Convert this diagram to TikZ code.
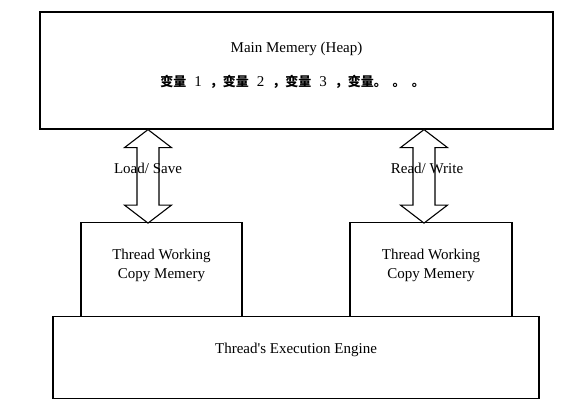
\documentclass[tikz,border=0pt]{standalone}
\usepackage{fontspec}
\setmainfont{Liberation Serif}
\newfontfamily\cjk{Noto Sans CJK SC}
\usepackage{tikz}
\usetikzlibrary{positioning}

\newcommand{\bl}[1]{{\cjk\bfseries\fontsize{13}{15}\selectfont #1}}

\tikzset{
  membox/.style={draw, line width=1.2pt, inner sep=0pt},
  memtext/.style={align=center, inner sep=0pt, font=\fontsize{15}{19}\selectfont},
  bigarrow/.pic={
    \draw[line width=1.1pt, fill=white] (0,0) -- (23.5,18) -- (11,18) -- (11,75.5) -- (23.5,75.5)
      -- (0,93.5) -- (-23.5,75.5) -- (-11,75.5) -- (-11,18) -- (-23.5,18) -- cycle;
  }
}

\begin{document}
\begin{tikzpicture}[x=1pt, y=-1pt]
  \useasboundingbox (0,0) rectangle (580,416);

  % boxes
  \node[membox, minimum width=513, minimum height=117] (main) at (296.5,70.5) {};
  \node[membox, minimum width=161, minimum height=94] (lw) at (161.5,269.5) {};
  \node[membox, minimum width=162, minimum height=94] (rw) at (431,269.5) {};
  \node[membox, minimum width=486, minimum height=82] (eng) at (296,357.5) {};

  % texts
  \node[memtext] (heap) at (296.5,48.5) {Main Memery (Heap)};
  \node[memtext] (vars) at (292.5,82)
    {\bl{变量}\hspace{8pt}1\hspace{8pt}\bl{，变量}\hspace{8pt}2\hspace{8pt}\bl{，变量}\hspace{8pt}3\hspace{8pt}\bl{，变量。\hspace{6pt}。\hspace{6pt}。}};
  \node[memtext] (lwt) at ([yshift=4pt]lw.center) {Thread Working\\Copy Memery};
  \node[memtext] (rwt) at ([yshift=4pt]rw.center) {Thread Working\\Copy Memery};
  \node[memtext] (engt) at ([yshift=8pt]eng.center) {Thread\textquotesingle s Execution Engine};

  % arrows
  \coordinate (ls) at (148,0 |- main.south);
  \coordinate (rs) at (424,0 |- main.south);
  \pic at (ls) {bigarrow};
  \pic at (rs) {bigarrow};

  \node[memtext] (load) at (148,168) {Load/ Save};
  \node[memtext] (read) at (427,168) {Read/ Write};
\end{tikzpicture}
\end{document}
